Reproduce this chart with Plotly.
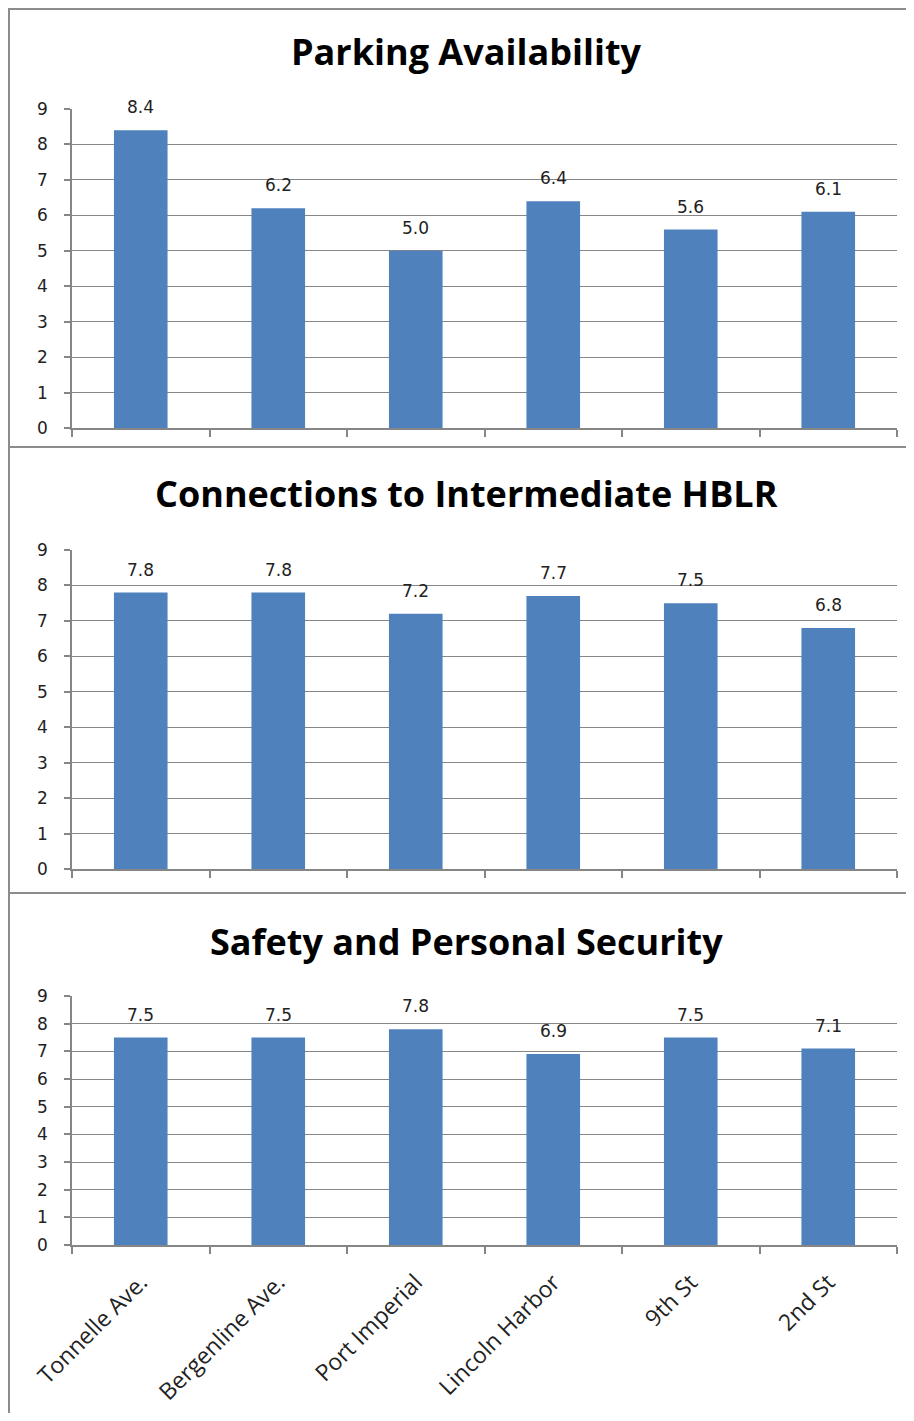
import plotly.graph_objects as go

categories = ["Tonnelle Ave.", "Bergenline Ave.", "Port Imperial", "Lincoln Harbor", "9th St", "2nd St"]
parking = [8.4, 6.2, 5.0, 6.4, 5.6, 6.1]
connections = [7.8, 7.8, 7.2, 7.7, 7.5, 6.8]
safety = [7.5, 7.5, 7.8, 6.9, 7.5, 7.1]
titles = ["Parking Availability", "Connections to Intermediate HBLR", "Safety and Personal Security"]
series = [parking, connections, safety]

# the figure sits at the page's default body margin (8, 8); keep it inside the window
OX, OY = 8, 8
W, H = 906, 1405
BAR = "#4F81BD"
GRID = "#868686"
NUMFONT = dict(family="DejaVu Sans, Verdana, sans-serif", size=17, color="#222")

def py(y):
    return min(1.0, max(0.0, 1 - (y - OY) / H))

def px(x):
    return min(1.0, max(0.0, (x - OX) / W))

# plot-area pixel bounds in the picture (top, bottom) and title y for each panel
panels = [(109, 428, 52), (550, 869, 493), (996, 1245, 941)]

fig = go.Figure()
annotations = []
for i, (vals, title, (top, bot, ty)) in enumerate(zip(series, titles, panels), start=1):
    xa = "x" if i == 1 else f"x{i}"
    ya = "y" if i == 1 else f"y{i}"
    fig.add_trace(go.Bar(x=categories, y=vals, marker=dict(color=BAR, line=dict(width=0)),
                         xaxis=xa, yaxis=ya, showlegend=False, hoverinfo="x+y"))
    for c, v in zip(categories, vals):
        annotations.append(dict(x=c, y=v, xref=xa, yref=ya, text=f"{v:.1f}", showarrow=False,
                                yshift=23, font=NUMFONT))
    annotations.append(dict(x=px(466), y=py(ty), xref="paper", yref="paper", text=f"<b>{title}</b>",
                            showarrow=False, xanchor="center", yanchor="middle",
                            font=dict(family="Open Sans, Lato, sans-serif", size=36, color="#000")))
    xkey = "xaxis" if i == 1 else f"xaxis{i}"
    ykey = "yaxis" if i == 1 else f"yaxis{i}"
    fig.update_layout(**{
        xkey: dict(domain=[px(72), px(897)], anchor=ya, type="category", range=[-0.5, 5.5],
                   automargin=False,
                   showline=True, linecolor=GRID, linewidth=1.5, ticks="outside", tickson="boundaries",
                   ticklen=7, tickcolor=GRID, tickwidth=1.5, showgrid=False,
                   showticklabels=(i == 3), tickangle=-45, ticklabelstandoff=13,
                   tickfont=dict(family="Open Sans, Lato, sans-serif", size=23, color="#222")),
        ykey: dict(domain=[py(bot), py(top)], anchor=xa, range=[0, 9], dtick=1,
                   automargin=False,
                   showgrid=True, gridcolor=GRID, gridwidth=1.2, zeroline=False,
                   showline=True, linecolor=GRID, linewidth=1.5, ticks="outside", ticklen=6,
                   tickcolor=GRID, tickwidth=1.5, tickfont=NUMFONT, ticklabelstandoff=13),
    })

# panel borders
shapes = []
bc = dict(color="#8c8c8c", width=2)
shapes.append(dict(type="line", xref="paper", yref="paper", x0=px(9), x1=px(9), y0=1, y1=0, line=bc))
shapes.append(dict(type="line", xref="paper", yref="paper", x0=px(9), x1=1, y0=0.9993, y1=0.9993, line=bc))
for yy in (447, 893):
    shapes.append(dict(type="line", xref="paper", yref="paper", x0=px(9), x1=1, y0=py(yy), y1=py(yy), line=bc))

fig.update_layout(width=W, height=H, margin=dict(l=0, r=0, t=0, b=0, autoexpand=False),
                  paper_bgcolor="white", plot_bgcolor="white", bargap=0.61,
                  annotations=annotations, shapes=shapes)

fig.write_html("out.html")
